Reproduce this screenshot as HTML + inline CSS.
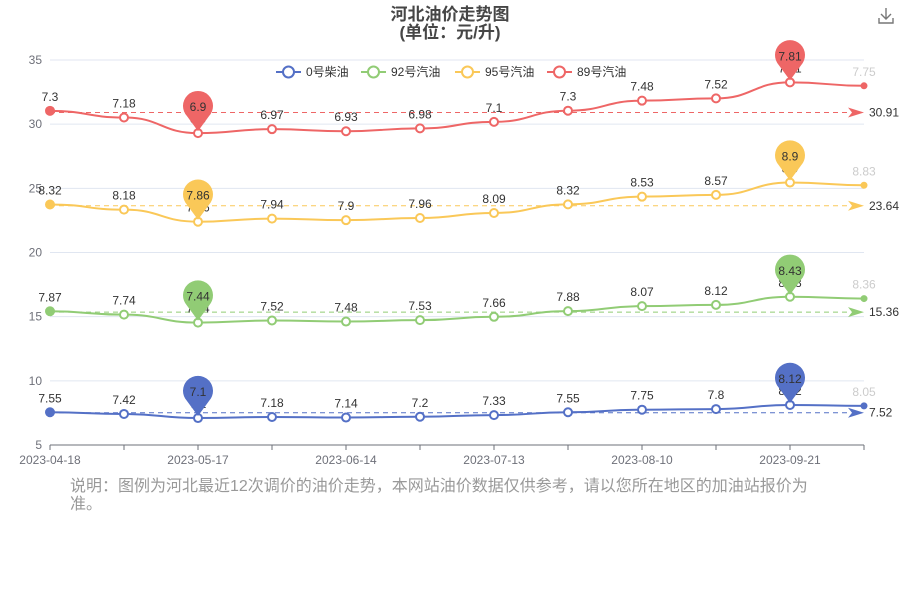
<!DOCTYPE html>
<html><head><meta charset="utf-8"><style>
body{margin:0;background:#fff;font-family:"Liberation Sans","Noto Sans CJK SC",sans-serif}
#wrap{position:relative;width:900px;height:600px;overflow:hidden}
svg text{font-family:"Liberation Sans","Noto Sans CJK SC",sans-serif}
.note{position:absolute;left:70px;top:478px;width:750px;font-size:16px;line-height:18px;color:#999}
</style></head><body>
<div id="wrap">
<svg id="chart" width="900" height="600"></svg>
<div class="note">说明：图例为河北最近12次调价的油价走势，本网站油价数据仅供参考，请以您所在地区的加油站报价为准。</div>
</div>
<script>
const categories=["2023-04-18","2023-05-04","2023-05-17","2023-05-31","2023-06-14","2023-06-28","2023-07-13","2023-07-27","2023-08-10","2023-08-24","2023-09-21","2023-10-08"];
const diesel0=[7.55,7.42,7.1,7.18,7.14,7.2,7.33,7.55,7.75,7.8,8.12,8.05];
const gas92=[7.87,7.74,7.44,7.52,7.48,7.53,7.66,7.88,8.07,8.12,8.43,8.36];
const gas95=[8.32,8.18,7.86,7.94,7.9,7.96,8.09,8.32,8.53,8.57,8.9,8.83];
const gas89=[7.30,7.18,6.90,6.97,6.93,6.98,7.10,7.30,7.48,7.52,7.81,7.75];
const seriesNames=["0号柴油","92号汽油","95号汽油","89号汽油"];
const yTicks=[5,10,15,20,25,30,35];
const xLabelIdx=[0,2,4,6,8,10];

const NS="http://www.w3.org/2000/svg";
const svg=document.getElementById('chart');
const colors=["#5470c6","#91cc75","#fac858","#ee6666"];
const X0=50,X1=864,Y0=445,Y1=60,ymin=5,ymax=35;
const xS=i=>X0+i*(X1-X0)/(categories.length-1);
const yS=v=>Y0-(v-ymin)/(ymax-ymin)*(Y0-Y1);
function mk(tag,attrs,parent){const e=document.createElementNS(NS,tag);for(const k in attrs)e.setAttribute(k,attrs[k]);(parent||svg).appendChild(e);return e;}

// title
let t=mk('text',{x:450,y:20,'text-anchor':'middle','font-size':17,'font-weight':'bold',fill:'#464646'});t.textContent="河北油价走势图";

t=mk('text',{x:450,y:38,'text-anchor':'middle','font-size':17,'font-weight':'bold',fill:'#464646'});t.textContent="(单位：元/升)";

// download icon
const dl=mk('g',{stroke:'#777','stroke-width':1.4,fill:'none'});

mk('path',{d:'M886 8 V19 M881 14 L886 19 L891 14 M879 18 V23 H893 V18'},dl);

// grid
yTicks.forEach(v=>{
  const l=mk('line',{x1:X0,x2:X1,y1:yS(v),y2:yS(v),stroke:v===5?'#6e7079':'#e0e6f1'});
  
  const tx=mk('text',{x:42,y:yS(v)+4,'text-anchor':'end','font-size':12,fill:'#6e7079'});tx.textContent=v;
  
});
categories.forEach((c,i)=>{
  const l=mk('line',{x1:xS(i),x2:xS(i),y1:Y0,y2:Y0+5,stroke:'#6e7079'});
  
});
xLabelIdx.forEach(i=>{
  const tx=mk('text',{x:xS(i),y:Y0+19,'text-anchor':'middle','font-size':12,fill:'#6e7079'});tx.textContent=categories[i];
  
});

// legend
const legX=[276,361,455,547];
seriesNames.forEach((n,k)=>{
  const g=mk('g',{});
  
  mk('line',{x1:legX[k],x2:legX[k]+25,y1:72,y2:72,stroke:colors[k],'stroke-width':2},g);
  mk('circle',{cx:legX[k]+12.5,cy:72,r:5.5,fill:'#fff',stroke:colors[k],'stroke-width':2},g);
  const tx=mk('text',{x:legX[k]+30,y:76,'font-size':12,fill:'#333'},g);tx.textContent=n;
});

// stacked series
const raw=[diesel0,gas92,gas95,gas89];
const stacked=[];
raw.forEach((arr,k)=>stacked.push(arr.map((v,i)=>v+(k?stacked[k-1][i]:0))));
const minIdx=raw.map(a=>a.indexOf(Math.min(...a)));
const maxIdx=raw.map(a=>a.indexOf(Math.max(...a)));

stacked.forEach((s,k)=>{
  const c=colors[k];
  // average markline
  const avg=s.reduce((a,b)=>a+b,0)/s.length;
  const ml=mk('g',{});
  
  mk('line',{x1:X0,x2:X1-14,y1:yS(avg),y2:yS(avg),stroke:c,'stroke-dasharray':'5,4'},ml);
  mk('path',{d:`M${X1-16} ${yS(avg)-5} L${X1} ${yS(avg)} L${X1-16} ${yS(avg)+5} L${X1-12} ${yS(avg)} Z`,fill:c},ml);
  const at=mk('text',{x:X1+5,y:yS(avg)+4,'font-size':12,fill:'#333'},ml);at.textContent=avg.toFixed(2);
  // line
  let d=`M${xS(0)} ${yS(s[0])}`;
  for(let i=1;i<s.length;i++){const xa=xS(i-1),xb=xS(i),xm=(xa+xb)/2;d+=` C${xm} ${yS(s[i-1])} ${xm} ${yS(s[i])} ${xb} ${yS(s[i])}`;}
  const p=mk('path',{d,fill:'none',stroke:c,'stroke-width':2});
  
  s.forEach((v,i)=>{
    const first=i===0,last=i===s.length-1;
    const pt=mk('circle',{cx:xS(i),cy:yS(v),r:first?5:(last?2.5:4),fill:(first||last)?c:'#fff',stroke:c,'stroke-width':first?0:2});
    
    const lb=mk('text',{x:xS(i),y:yS(v)-10,'text-anchor':'middle','font-size':12,fill:last?'#ccc':'#333'});
    lb.textContent=raw[k][i];
    
  });
  // mark points (min & max)
  [minIdx[k],maxIdx[k]].forEach(i=>{
    const x=xS(i),y=yS(s[i]);
    const g=mk('g',{});
    
    const cy=y-26;
    mk('path',{d:`M${x} ${y-2} L${x-11} ${cy+9} A15 15 0 1 1 ${x+11} ${cy+9} Z`,fill:c},g);
    const tx=mk('text',{x:x,y:cy+4,'text-anchor':'middle','font-size':12,fill:'#333'},g);tx.textContent=raw[k][i];
  });
});
</script>
</body></html>
